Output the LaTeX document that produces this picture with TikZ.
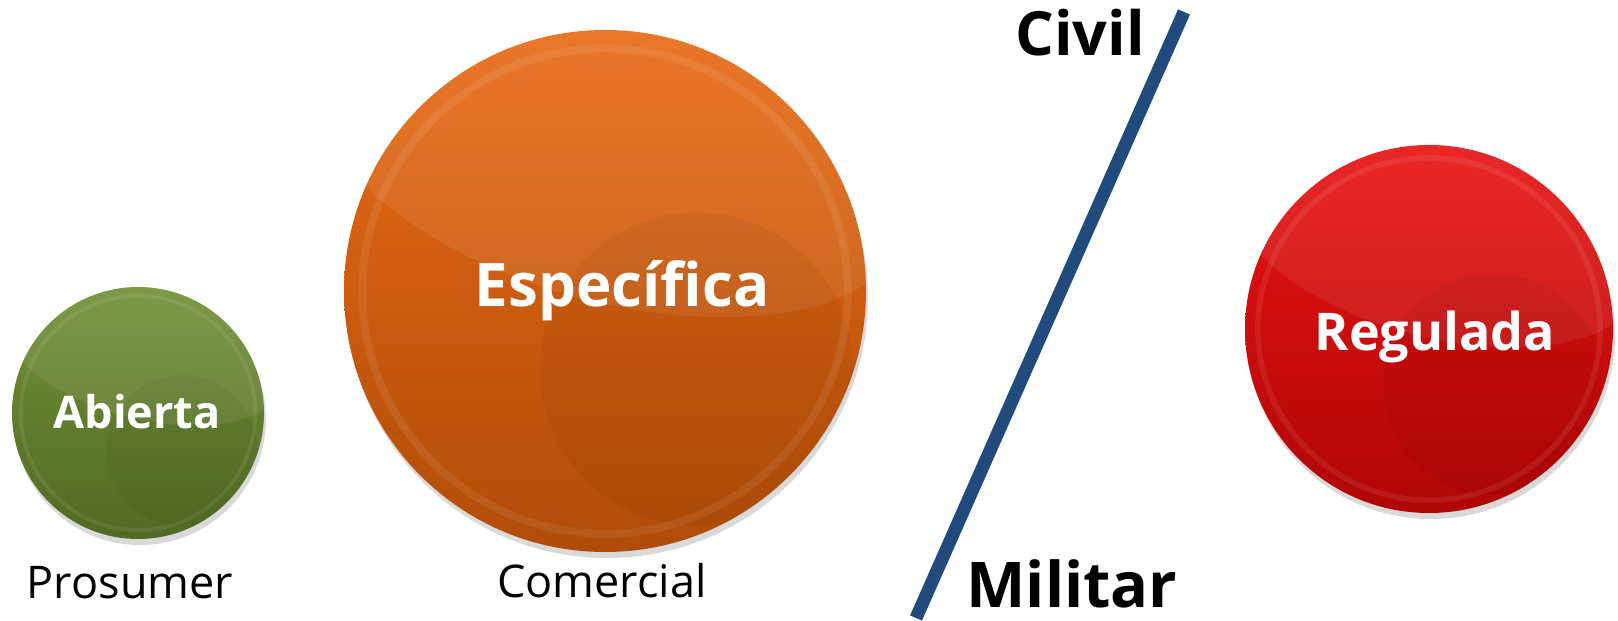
\documentclass[tikz,border=0pt]{standalone}
\usepackage{fontspec}
\setmainfont{Open Sans}
\usetikzlibrary{shadows}

\definecolor{verde}{HTML}{6A8C2E}
\definecolor{naranja}{HTML}{E8640A}
\definecolor{rojo}{HTML}{E80808}
\definecolor{azul}{HTML}{214A7D}

\tikzset{
  bola/.style={circle, inner sep=0pt, drop shadow={opacity=0.3, shadow xshift=2pt, shadow yshift=-6pt}},
  rotulo/.style={text=white, inner sep=0pt, anchor=base},
  pie/.style={inner sep=0pt, anchor=base, font=\fontsize{45}{50}\selectfont},
  eje/.style={inner sep=0pt, anchor=base},
  divisor/.style={azul, line width=13pt},
}

\begin{document}
\begin{tikzpicture}[x=1pt, y=1pt]
  \useasboundingbox (0,0) rectangle (1618,-621);

  % las tres bolas
  \foreach \nm/\x/\y/\r/\col in {abierta/138/-413/126/verde,
      especifica/605/-291/261/naranja, regulada/1429/-329/184/rojo}{
    \node[bola, minimum size=2*\r, top color=\col!95!white,
      bottom color=\col!76!black] (\nm) at (\x,\y) {};
    \begin{scope}
      \clip (\nm.center) circle[radius=\r];
      \fill[white, opacity=0.08, rotate around={-15:(\nm.center)}]
        ([xshift=-0.1*\r, yshift=0.5*\r]\nm.center) ellipse[x radius=1.15*\r, y radius=0.55*\r];
      \fill[black, opacity=0.04] ([xshift=0.35*\r, yshift=-0.3*\r]\nm.center) circle[radius=0.6*\r];
      \draw[white, opacity=0.08, line width=0.03*\r] (\nm.center) circle[radius=0.93*\r];
    \end{scope}
  }

  % textos
  \node[rotulo, font=\bfseries\fontsize{45}{48}\selectfont] (t-abierta) at (137,-428) {Abierta};
  \node[rotulo, font=\bfseries\fontsize{60}{64}\selectfont] (t-especifica) at (622,-306) {Específica};
  \node[rotulo, font=\bfseries\fontsize{52}{56}\selectfont] (t-regulada) at (1435,-350) {Regulada};

  \node[pie] (prosumer) at (130,-598) {Prosumer};
  \node[pie] (comercial) at (602,-597) {Comercial};

  % civil / militar
  \node[eje, font=\bfseries\fontsize{61}{64}\selectfont] (civil) at (1080,-55) {Civil};
  \node[eje, font=\bfseries\fontsize{63}{66}\selectfont] (militar) at (1072,-607) {Militar};
  \coordinate (arriba) at (1184,-12);
  \coordinate (abajo) at (916,-618);
  \draw[divisor] (arriba) -- (abajo);
\end{tikzpicture}
\end{document}
